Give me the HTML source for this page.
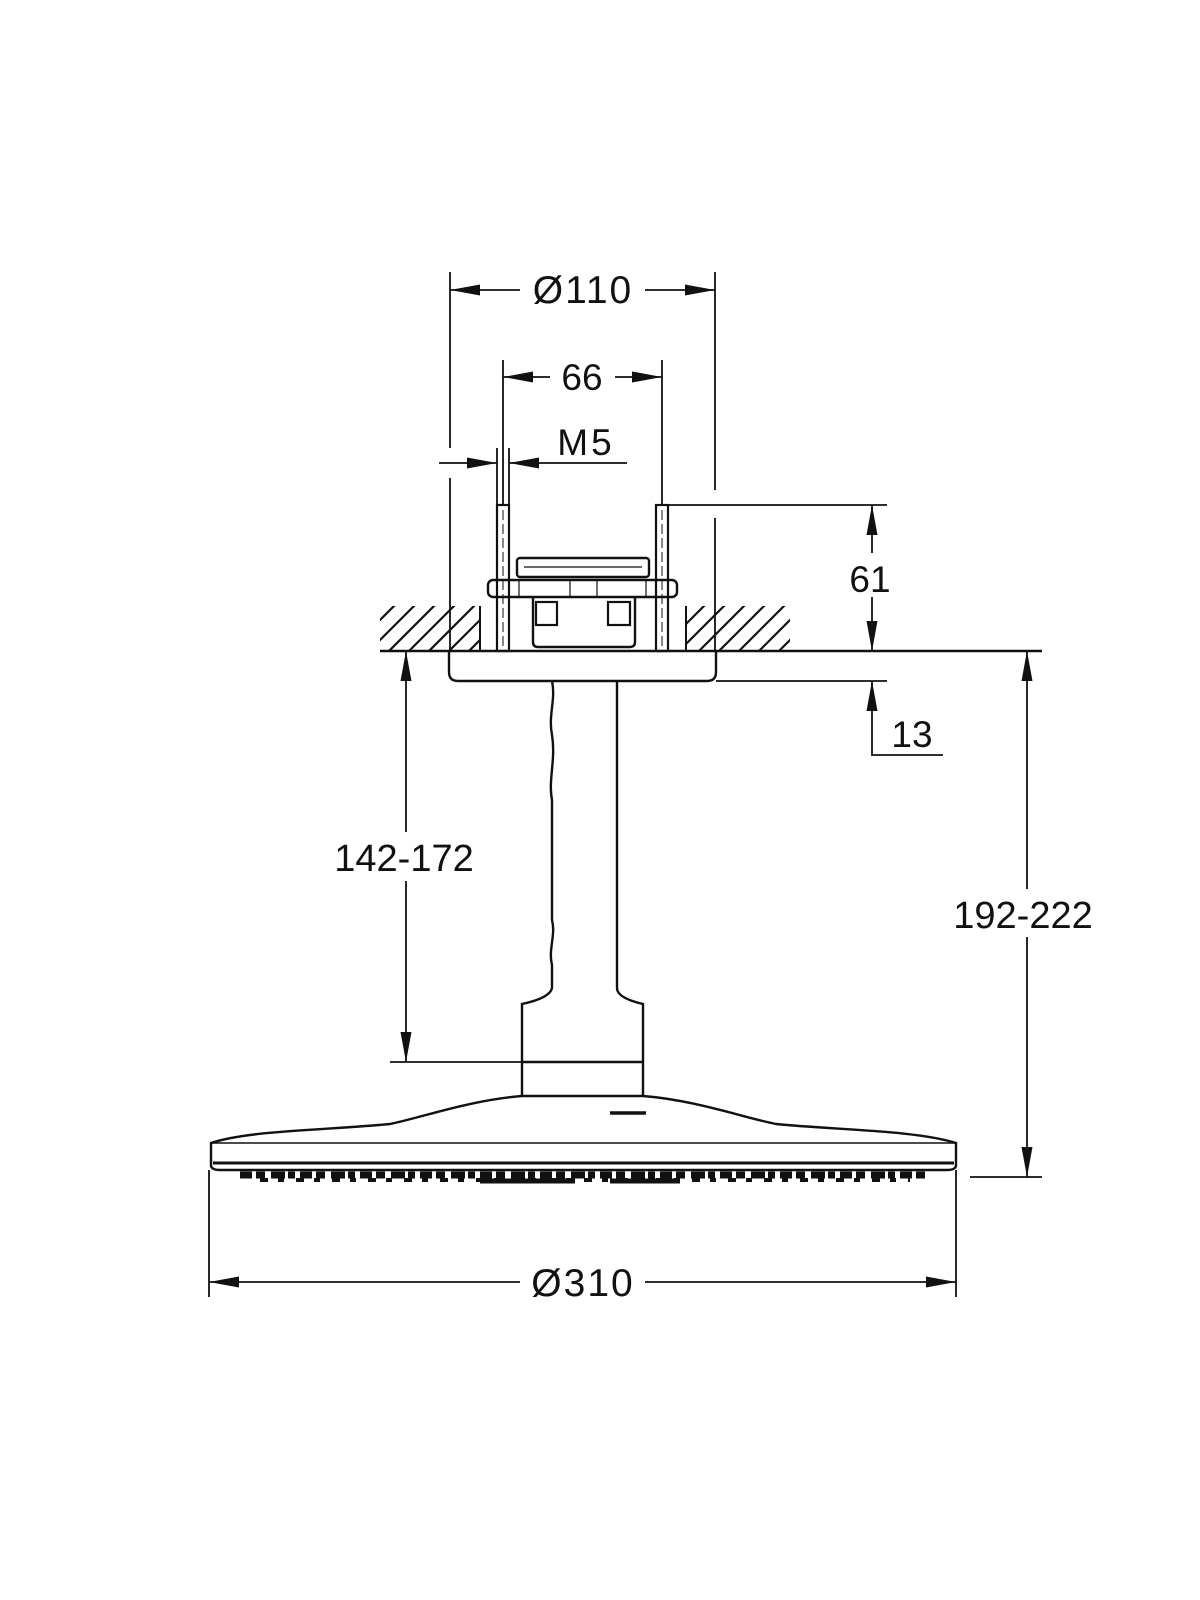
<!DOCTYPE html>
<html><head><meta charset="utf-8"><style>html,body{margin:0;padding:0;background:#fff}svg{display:block}text{font-family:"Liberation Sans",sans-serif;fill:#111}</style></head>
<body>
<svg width="1200" height="1600" viewBox="0 0 1200 1600" xmlns="http://www.w3.org/2000/svg">
<defs>
<clipPath id="hl"><rect x="380" y="606" width="100" height="45"/></clipPath>
<clipPath id="hr"><rect x="686" y="606" width="104" height="45"/></clipPath>
</defs>
<g stroke="#111" fill="none" stroke-width="2">
<g clip-path="url(#hl)" stroke-width="2.2">
<path d="M330 670 L400 600 M350 670 L420 600 M370 670 L440 600 M390 670 L460 600 M410 670 L480 600 M430 670 L500 600 M450 670 L520 600 M470 670 L540 600 M490 670 L560 600"/>
</g>
<g clip-path="url(#hr)" stroke-width="2.2">
<path d="M640 670 L710 600 M660 670 L730 600 M680 670 L750 600 M700 670 L770 600 M720 670 L790 600 M740 670 L810 600 M760 670 L830 600 M780 670 L850 600"/>
</g>
<line x1="480" y1="606" x2="480" y2="651"/>
<line x1="686" y1="606" x2="686" y2="651"/>
<line x1="380" y1="651" x2="1042" y2="651" stroke-width="2.4"/>
<path d="M449 651 L449 672 Q449 681 458 681 L707 681 Q716 681 716 672 L716 651" stroke-width="2.4"/>
<rect x="497" y="505" width="12" height="146" stroke-width="2.2"/>
<rect x="656" y="505" width="12" height="146" stroke-width="2.2"/>
<line x1="503" y1="510" x2="503" y2="646" stroke-width="1" stroke-dasharray="10 4"/>
<line x1="662" y1="510" x2="662" y2="646" stroke-width="1" stroke-dasharray="10 4"/>
<rect x="517" y="558" width="132" height="19" rx="3" stroke-width="2.4"/>
<line x1="524" y1="567" x2="642" y2="567" stroke-width="1.2"/>
<rect x="488" y="580" width="189" height="17" rx="5" stroke-width="2.4"/>
<line x1="519" y1="580" x2="519" y2="597" stroke-width="1.2"/>
<line x1="646" y1="580" x2="646" y2="597" stroke-width="1.2"/>
<line x1="570" y1="580" x2="570" y2="597" stroke-width="1.2"/>
<line x1="597" y1="580" x2="597" y2="597" stroke-width="1.2"/>
<path d="M533 597 L533 642 Q533 647 538 647 L630 647 Q635 647 635 642 L635 597" stroke-width="2.4"/>
<rect x="536" y="602" width="21" height="23" stroke-width="2.2"/>
<rect x="608" y="602" width="22" height="23" stroke-width="2.2"/>
<path d="M552 681 C556 700 548 715 552 735 C556 760 548 780 552 800 L552 920 C556 935 548 950 552 965 L552 988 Q550 998 522 1004 L522 1096" stroke-width="2.4"/>
<path d="M617 681 L617 988 Q617 998 643 1004 L643 1096" stroke-width="2.4"/>
<line x1="522" y1="1062" x2="643" y2="1062" stroke-width="2.4"/>
<path d="M522 1096 C470 1100 420 1118 390 1124 C330 1130 250 1130 211 1143 L211 1166 Q212 1170 220 1170 L947 1170 Q955 1170 956 1166 L956 1143 C915 1130 835 1130 776 1124 C745 1118 695 1100 643 1096 Z" stroke-width="2.4"/>
<line x1="211" y1="1143" x2="956" y2="1143" stroke-width="1.6"/>
<line x1="213" y1="1163" x2="954" y2="1163" stroke-width="3"/>
<line x1="610" y1="1113" x2="646" y2="1113" stroke-width="3.5"/>
<line x1="240" y1="1175" x2="930" y2="1175" stroke-width="7" stroke-dasharray="12 4 9 6 14 3 7 5"/>
<line x1="260" y1="1180" x2="910" y2="1180" stroke-width="4" stroke-dasharray="8 10 6 12"/>
<line x1="480" y1="1181" x2="575" y2="1181" stroke-width="5"/>
<line x1="610" y1="1181" x2="680" y2="1181" stroke-width="5"/>
<g stroke-width="1.8">
<line x1="450" y1="272" x2="450" y2="448"/><line x1="450" y1="478" x2="450" y2="651"/>
<line x1="715" y1="272" x2="715" y2="490"/><line x1="715" y1="518" x2="715" y2="651"/>
<line x1="450" y1="290" x2="520" y2="290"/><line x1="645" y1="290" x2="715" y2="290"/>
<line x1="503" y1="360" x2="503" y2="505"/><line x1="662" y1="360" x2="662" y2="505"/>
<line x1="503" y1="377" x2="550" y2="377"/><line x1="615" y1="377" x2="662" y2="377"/>
<line x1="497" y1="448" x2="497" y2="505"/><line x1="509" y1="448" x2="509" y2="505"/>
<line x1="439" y1="463" x2="497" y2="463"/><line x1="509" y1="463" x2="627" y2="463"/>
<line x1="668" y1="505" x2="887" y2="505"/>
<line x1="872" y1="505" x2="872" y2="553"/><line x1="872" y1="597" x2="872" y2="651"/>
<line x1="716" y1="681" x2="887" y2="681"/>
<polyline points="872,681 872,755 943,755"/>
<line x1="406" y1="651" x2="406" y2="832"/><line x1="406" y1="881" x2="406" y2="1062"/>
<line x1="390" y1="1062" x2="522" y2="1062"/>
<line x1="1027" y1="651" x2="1027" y2="889"/><line x1="1027" y1="937" x2="1027" y2="1177"/>
<line x1="970" y1="1177" x2="1042" y2="1177"/>
<line x1="209" y1="1170" x2="209" y2="1297"/><line x1="956" y1="1170" x2="956" y2="1297"/>
<line x1="209" y1="1282" x2="520" y2="1282"/><line x1="645" y1="1282" x2="956" y2="1282"/>
</g>
</g>
<g fill="#111" stroke="none">
<polygon points="450,290 480,284.5 480,295.5"/><polygon points="715,290 685,284.5 685,295.5"/>
<polygon points="503,377 533,371.5 533,382.5"/><polygon points="662,377 632,371.5 632,382.5"/>
<polygon points="497,463 467,457.5 467,468.5"/><polygon points="509,463 539,457.5 539,468.5"/>
<polygon points="872,505 866.5,535 877.5,535"/><polygon points="872,651 866.5,621 877.5,621"/>
<polygon points="872,681 866.5,711 877.5,711"/>
<polygon points="406,651 400.5,681 411.5,681"/><polygon points="406,1062 400.5,1032 411.5,1032"/>
<polygon points="1027,651 1021.5,681 1032.5,681"/><polygon points="1027,1177 1021.5,1147 1032.5,1147"/>
<polygon points="209,1282 239,1276.5 239,1287.5"/><polygon points="956,1282 926,1276.5 926,1287.5"/>
</g>
<g font-size="37">
<text x="583" y="303" text-anchor="middle" font-size="39" letter-spacing="2">Ø110</text>
<text x="582" y="390" text-anchor="middle">66</text>
<text x="586" y="455" text-anchor="middle" letter-spacing="3">M5</text>
<text x="870" y="592" text-anchor="middle">61</text>
<text x="912" y="747" text-anchor="middle">13</text>
<text x="404" y="871" text-anchor="middle" font-size="38">142-172</text>
<text x="1023" y="928" text-anchor="middle" font-size="38">192-222</text>
<text x="583" y="1296" text-anchor="middle" font-size="39" letter-spacing="2">Ø310</text>
</g>
</svg>
</body></html>
